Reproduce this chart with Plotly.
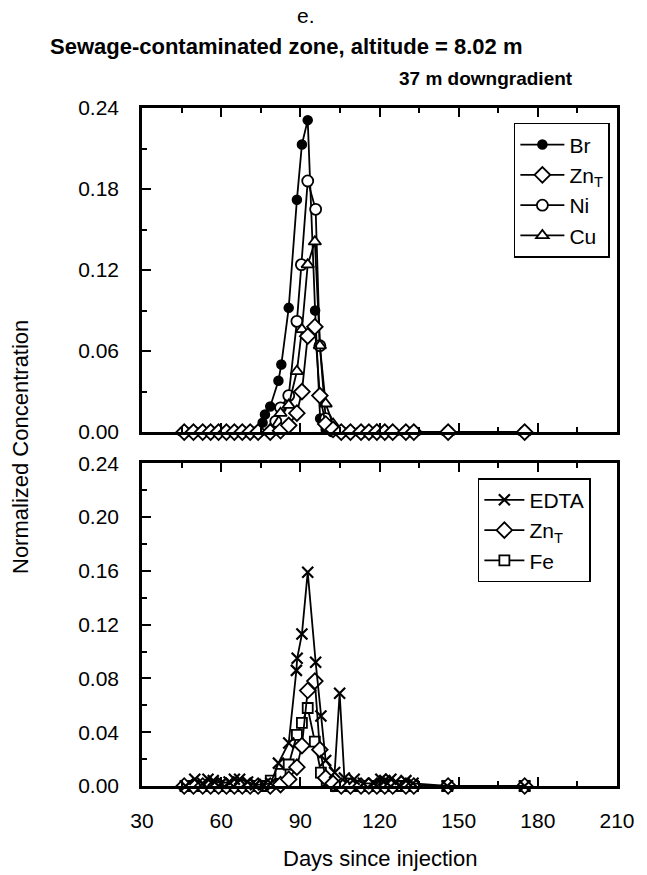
import plotly.graph_objects as go

# ---------------- data ----------------
days_br = [46, 49.5, 53, 56, 59, 62, 65, 68, 71, 74, 75.7, 76.6, 78.6, 81.7, 82.8, 85.6, 88.7, 90.6, 92.8, 95.6, 97.5, 99.6, 102, 105.5, 109, 113, 116, 119, 122, 125, 130, 133, 146, 175]
br = [0, 0, 0, 0, 0, 0, 0, 0, 0, 0, 0.007, 0.013, 0.019, 0.038, 0.050, 0.092, 0.172, 0.213, 0.231, 0.090, 0.010, 0.002, 0, 0, 0, 0, 0, 0, 0, 0, 0, 0, 0, 0]

days_zn = [46, 49.5, 53, 56, 59, 62, 65, 68, 71, 74, 78.6, 82.5, 85.6, 88.7, 90.6, 92.8, 95.5, 97.4, 99.6, 102.4, 105.5, 109, 113, 116, 119, 122, 125, 130, 133, 146, 175]
zn = [0, 0, 0, 0, 0, 0, 0, 0, 0, 0, 0, 0.001, 0.005, 0.014, 0.030, 0.071, 0.078, 0.027, 0.006, 0.002, 0, 0, 0, 0, 0, 0, 0, 0, 0, 0, 0]

days_ni = [46, 49.5, 53, 56, 59, 62, 65, 68, 71, 74, 78.6, 80.7, 82.5, 85.6, 88.7, 90.4, 92.8, 95.8, 97.4, 99.6, 102, 105.5, 109, 113, 116, 119, 122, 125, 130, 133, 146, 175]
ni = [0, 0, 0, 0, 0, 0, 0, 0, 0, 0, 0, 0.008, 0.018, 0.027, 0.082, 0.124, 0.186, 0.165, 0.064, 0.010, 0.002, 0, 0, 0, 0, 0, 0, 0, 0, 0, 0, 0]

days_cu = [46, 49.5, 53, 56, 59, 62, 65, 68, 71, 74, 78.6, 82.5, 85.6, 88.7, 90.6, 92.8, 95.5, 97.4, 99.6, 102.4, 105.5, 109, 113, 116, 119, 122, 125, 130, 133, 146, 175]
cu = [0, 0, 0, 0, 0, 0, 0, 0, 0, 0, 0.002, 0.014, 0.020, 0.045, 0.076, 0.124, 0.141, 0.064, 0.021, 0.006, 0, 0, 0, 0, 0, 0, 0, 0, 0, 0, 0]

days_edta = [46.5, 50, 53, 55, 57, 60, 63, 65, 67, 70, 73, 76, 78.8, 81.7, 85.6, 88.5, 88.8, 90.6, 92.8, 95.8, 97.8, 99.6, 103, 104.9, 106.7, 110.4, 113.9, 117.8, 120.5, 122, 124.3, 126, 130, 132.7, 145.7, 175]
edta = [0, 0.005, 0.002, 0.005, 0.004, 0.002, 0.003, 0.005, 0.005, 0.003, 0.001, 0.001, 0.002, 0.017, 0.032, 0.086, 0.095, 0.113, 0.159, 0.092, 0.052, 0.019, 0.010, 0.069, 0.006, 0.005, 0.002, 0.002, 0.005, 0.004, 0.005, 0.003, 0.004, 0.002, 0, 0]

days_fe = [46.5, 50, 53, 56.5, 60, 63, 66.5, 69.5, 73, 76, 78.8, 82.5, 85.6, 88.7, 90.6, 92.8, 95.5, 97.8, 100, 103.5, 106.7, 110.5, 114, 118, 121, 124.3, 126.2, 130, 132.7, 145.7, 175]
fe = [0, 0, 0, 0, 0, 0, 0, 0, 0, 0, 0.004, 0.009, 0.016, 0.038, 0.047, 0.058, 0.033, 0.010, 0.004, 0, 0, 0, 0, 0, 0, 0, 0, 0, 0, 0, 0]

x_ticks = [30, 60, 90, 120, 150, 180, 210]
y_ticks_top = [0.00, 0.06, 0.12, 0.18, 0.24]
y_ticks_bot = [0.00, 0.04, 0.08, 0.12, 0.16, 0.20, 0.24]

# ---------------- figure ----------------
FONT = "Liberation Sans, Arial, sans-serif"
fig = go.Figure()

def trace(x, y, name, symbol, size, fill, yaxis, legend, lw=1.5):
    return go.Scatter(
        x=x, y=y, name=name, mode="lines+markers", xaxis="x" if yaxis == "y" else "x2", yaxis=yaxis,
        legend=legend, cliponaxis=False,
        line=dict(color="black", width=1.8),
        marker=dict(symbol=symbol, size=size, color=fill, line=dict(color="black", width=lw)),
    )

# top panel
fig.add_trace(trace(days_br, br, "Br", "circle", 9, "black", "y", "legend"))
fig.add_trace(trace(days_ni, ni, "Ni", "circle", 11, "white", "y", "legend", lw=1.8))
fig.add_trace(trace(days_cu, cu, "Cu", "triangle-up", 11, "white", "y", "legend", lw=1.8))
fig.add_trace(trace(days_zn, zn, "Zn<sub>T</sub>", "diamond", 12, "white", "y", "legend", lw=1.8))
# bottom panel
fig.add_trace(trace(days_fe, fe, "Fe", "square", 10, "white", "y2", "legend2", lw=1.8))
fig.add_trace(trace(days_zn, zn, "Zn<sub>T</sub>", "diamond", 12, "white", "y2", "legend2", lw=1.8))
fig.add_trace(trace(days_edta, edta, "EDTA", "x-thin-open", 11, "black", "y2", "legend2", lw=2.2))

for i, rank in zip(range(7), [1, 3, 4, 2, 3, 2, 1]):
    fig.data[i].legendrank = rank

TICKFONT = dict(family=FONT, size=21, color="black")
ax_common = dict(
    range=[30, 210], tickvals=x_ticks, showline=True, linecolor="black", linewidth=2.5,
    mirror="ticks", ticks="inside", ticklen=9, tickwidth=2.2, tickcolor="black",
    minor=dict(dtick=15, tick0=30, ticks="inside", ticklen=5, tickwidth=1.6, tickcolor="black"),
    showgrid=False, zeroline=False, tickfont=TICKFONT, ticklabelstandoff=14,
)
y_common = dict(
    range=[0, 0.24], showline=True, linecolor="black", linewidth=2.5, mirror=True,
    ticks="inside", ticklen=9, tickwidth=2.2, tickcolor="black", tickformat=".2f",
    showgrid=False, zeroline=False, tickfont=TICKFONT, ticklabelstandoff=16,
)
LEGFONT = dict(family=FONT, size=21, color="black")

fig.update_layout(
    width=647, height=875,
    margin=dict(l=142, r=24, t=108, b=89),
    plot_bgcolor="white", paper_bgcolor="white",
    font=dict(family=FONT, color="black"),
    xaxis=dict(ax_common, anchor="y", showticklabels=False),
    xaxis2=dict(ax_common, anchor="y2"),
    yaxis=dict(y_common, domain=[0.522, 1.0], tickvals=y_ticks_top,
               minor=dict(dtick=0.03, ticks="inside", ticklen=5, tickwidth=1.6, tickcolor="black")),
    yaxis2=dict(y_common, domain=[0.0, 0.476], tickvals=y_ticks_bot,
                minor=dict(dtick=0.02, ticks="inside", ticklen=5, tickwidth=1.6, tickcolor="black")),
    legend=dict(x=0.985, y=0.978, xanchor="right", yanchor="top", bordercolor="black", borderwidth=1.5,
                bgcolor="white", font=LEGFONT, tracegroupgap=0, itemwidth=44, itemsizing="trace"),
    legend2=dict(x=0.945, y=0.454, xanchor="right", yanchor="top", bordercolor="black", borderwidth=1.5,
                 bgcolor="white", font=LEGFONT, tracegroupgap=0, itemwidth=40, itemsizing="trace"),
    showlegend=True,
    annotations=[
        dict(text="e.", x=0.345, y=1, xref="paper", yref="paper", yshift=93, showarrow=False,
             font=dict(family=FONT, size=21), xanchor="center", yanchor="middle"),
        dict(text="<b>Sewage-contaminated zone, altitude = 8.02 m</b>", x=0.305, y=1, xref="paper", yref="paper",
             yshift=62, showarrow=False, font=dict(family=FONT, size=22),
             xanchor="center", yanchor="middle"),
        dict(text="<b>37 m downgradient</b>", x=1.0, y=1, xref="paper", yref="paper", xshift=-42, yshift=30,
             showarrow=False, font=dict(family=FONT, size=19), xanchor="right", yanchor="middle"),
        dict(text="Normalized Concentration", x=0, y=0.5, xref="paper", yref="paper", xshift=-122,
             textangle=-90, showarrow=False, font=dict(family=FONT, size=22), xanchor="center", yanchor="middle"),
        dict(text="Days since injection", x=0.5, y=0, xref="paper", yref="paper", yshift=-72,
             showarrow=False, font=dict(family=FONT, size=22), xanchor="center", yanchor="middle"),
    ],
)

fig.write_html("out.html")
